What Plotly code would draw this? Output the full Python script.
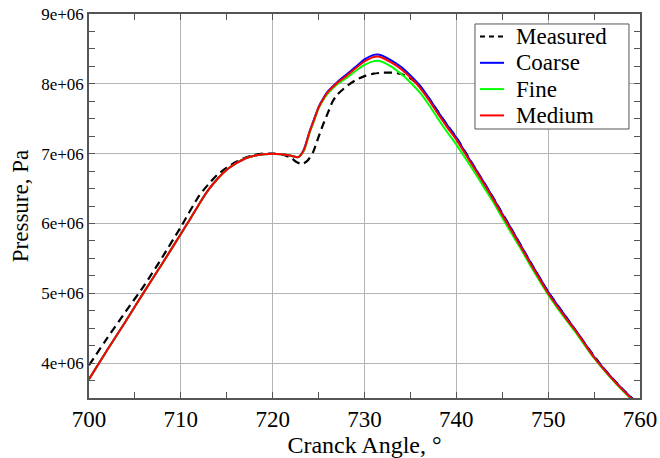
import plotly.graph_objects as go

# ---------------- data ----------------
angle_sim = [700, 702, 704, 706, 708, 710, 711, 712, 713, 714, 715, 716, 717, 718, 719,
             720, 721, 722, 722.8, 723.4, 724, 724.5, 725, 725.5, 726, 727, 728, 729, 730,
             731, 731.5, 732, 733, 734, 735, 736, 737, 738, 739, 740, 741, 742, 743, 744,
             745, 746, 747, 748, 749, 750, 751, 752, 753, 754, 755, 756, 757, 758, 759, 760]

medium = [3.77, 4.19, 4.60, 5.02, 5.43, 5.85, 6.06, 6.28, 6.48, 6.64, 6.77, 6.86, 6.93, 6.97, 6.99,
          7.00, 6.99, 6.97, 6.95, 7.05, 7.30, 7.48, 7.66, 7.78, 7.88, 8.01, 8.11, 8.22, 8.32,
          8.385, 8.39, 8.37, 8.30, 8.21, 8.09, 7.95, 7.77, 7.57, 7.38, 7.20, 6.99, 6.78, 6.57, 6.35,
          6.12, 5.90, 5.67, 5.44, 5.22, 5.00, 4.81, 4.63, 4.46, 4.27, 4.08, 3.92, 3.77, 3.63, 3.50, 3.38]

coarse = [3.77, 4.19, 4.60, 5.02, 5.43, 5.85, 6.06, 6.28, 6.48, 6.64, 6.77, 6.86, 6.93, 6.97, 6.99,
          7.00, 6.99, 6.97, 6.95, 7.06, 7.31, 7.49, 7.67, 7.79, 7.89, 8.02, 8.13, 8.24, 8.35,
          8.415, 8.42, 8.40, 8.33, 8.24, 8.12, 7.98, 7.80, 7.60, 7.41, 7.23, 7.01, 6.80, 6.59, 6.37,
          6.14, 5.92, 5.69, 5.46, 5.24, 5.02, 4.83, 4.65, 4.47, 4.28, 4.09, 3.93, 3.78, 3.64, 3.51, 3.39]

fine = [3.77, 4.19, 4.60, 5.02, 5.43, 5.85, 6.06, 6.28, 6.48, 6.64, 6.77, 6.86, 6.93, 6.97, 6.99,
        7.00, 6.99, 6.97, 6.95, 7.04, 7.29, 7.47, 7.65, 7.77, 7.86, 7.99, 8.08, 8.18, 8.27,
        8.325, 8.33, 8.31, 8.24, 8.14, 8.02, 7.88, 7.70, 7.50, 7.31, 7.13, 6.93, 6.73, 6.52, 6.31,
        6.08, 5.86, 5.64, 5.41, 5.19, 4.98, 4.79, 4.61, 4.44, 4.25, 4.07, 3.91, 3.76, 3.62, 3.49, 3.37]

angle_meas = [700, 702, 704, 706, 708, 710, 712, 713, 714, 715, 716, 717, 718, 719, 720, 721, 722,
              722.6, 723.2, 723.8, 724.4, 725, 725.5, 726, 726.5, 727, 728, 729, 730, 731, 732,
              733, 734, 735, 736, 737, 738, 739, 740, 742, 744, 746, 748, 750, 752, 754, 756, 758, 760]
measured = [3.97, 4.36, 4.74, 5.11, 5.52, 5.95, 6.40, 6.56, 6.70, 6.80, 6.88, 6.94, 6.98, 7.00, 7.00,
            6.99, 6.94, 6.88, 6.85, 6.90, 7.02, 7.24, 7.42, 7.58, 7.74, 7.84, 7.96, 8.05, 8.11, 8.145,
            8.16, 8.16, 8.14, 8.08, 7.97, 7.79, 7.60, 7.41, 7.23, 6.80, 6.37, 5.92, 5.46, 5.02, 4.65,
            4.28, 3.93, 3.64, 3.39]

scale = 1e6  # values above are in units of 1e6 Pa

y_tickvals = [4e6, 5e6, 6e6, 7e6, 8e6, 9e6]
y_ticktext = ["4e+06", "5e+06", "6e+06", "7e+06", "8e+06", "9e+06"]

series_names = ["Measured", "Coarse", "Fine", "Medium"]
series_colors = ["black", "#0000ff", "#00ff00", "#ff0000"]

FONT = "Liberation Serif, Times New Roman, DejaVu Serif, serif"

fig = go.Figure()
fig.add_trace(go.Scatter(x=angle_meas, y=[v * scale for v in measured], mode="lines",
                         name=series_names[0],
                         line=dict(color=series_colors[0], width=2.2, dash="8px,5px", shape="spline", smoothing=0.6)))
fig.add_trace(go.Scatter(x=angle_sim, y=[v * scale for v in coarse], mode="lines",
                         name=series_names[1],
                         line=dict(color=series_colors[1], width=2, shape="spline", smoothing=0.6)))
fig.add_trace(go.Scatter(x=angle_sim, y=[v * scale for v in fine], mode="lines",
                         name=series_names[2],
                         line=dict(color=series_colors[2], width=2, shape="spline", smoothing=0.6)))
fig.add_trace(go.Scatter(x=angle_sim, y=[v * scale for v in medium], mode="lines",
                         name=series_names[3],
                         line=dict(color=series_colors[3], width=2, shape="spline", smoothing=0.6)))

axis_common = dict(
    showline=True, linecolor="#555555", linewidth=1.5, mirror="ticks",
    ticks="inside", ticklen=6, tickcolor="#555555", tickwidth=1,
    showgrid=True, gridcolor="#b4b4b4", gridwidth=1, zeroline=False, automargin=False,
)

fig.update_layout(
    width=660, height=458,
    margin=dict(l=89, r=20, t=14, b=60, autoexpand=False),
    plot_bgcolor="white", paper_bgcolor="white",
    showlegend=False,
    font=dict(family=FONT, color="black"),
    xaxis=dict(range=[700, 760], tickmode="linear", tick0=700, dtick=10,
               tickfont=dict(size=23, family=FONT, color="black"),
               title=dict(text="Cranck Angle, °", font=dict(size=24, family=FONT, color="black"), standoff=4),
               minor=dict(tick0=700, dtick=5, ticks="inside", ticklen=6, tickcolor="#555555", showgrid=False),
               **axis_common),
    yaxis=dict(range=[3.5e6, 9e6], tickmode="array", tickvals=y_tickvals, ticktext=y_ticktext,
               tickfont=dict(size=17, family=FONT, color="black"),
               title=dict(text="Pressure, Pa", font=dict(size=23, family=FONT, color="black"), standoff=6),
               minor=dict(tick0=3.5e6, dtick=250000, ticks="inside", ticklen=6, tickcolor="#555555", showgrid=False),
               **axis_common),
)

# legend box (drawn manually to match the compact spacing of the original)
shapes = [dict(type="rect", xref="paper", yref="paper", x0=0.7005, x1=0.980, y0=0.7005, y1=0.974,
               line=dict(color="#555555", width=1), fillcolor="white", layer="above")]
row_y = [0.9414, 0.8729, 0.8044, 0.7359]
annotations = []
for name, color, yy in zip(series_names, series_colors, row_y):
    shapes.append(dict(type="line", xref="paper", yref="paper", x0=0.7096, x1=0.7532, y0=yy, y1=yy,
                       line=dict(color=color, width=2, dash="5px,4px" if name == "Measured" else "solid"),
                       layer="above"))
    annotations.append(dict(xref="paper", yref="paper", x=0.7731, y=yy, text=name, showarrow=False,
                            xanchor="left", yanchor="middle", borderpad=0,
                            font=dict(size=23, family=FONT, color="black")))
fig.update_layout(shapes=shapes, annotations=annotations)

fig.write_html("out.html")
